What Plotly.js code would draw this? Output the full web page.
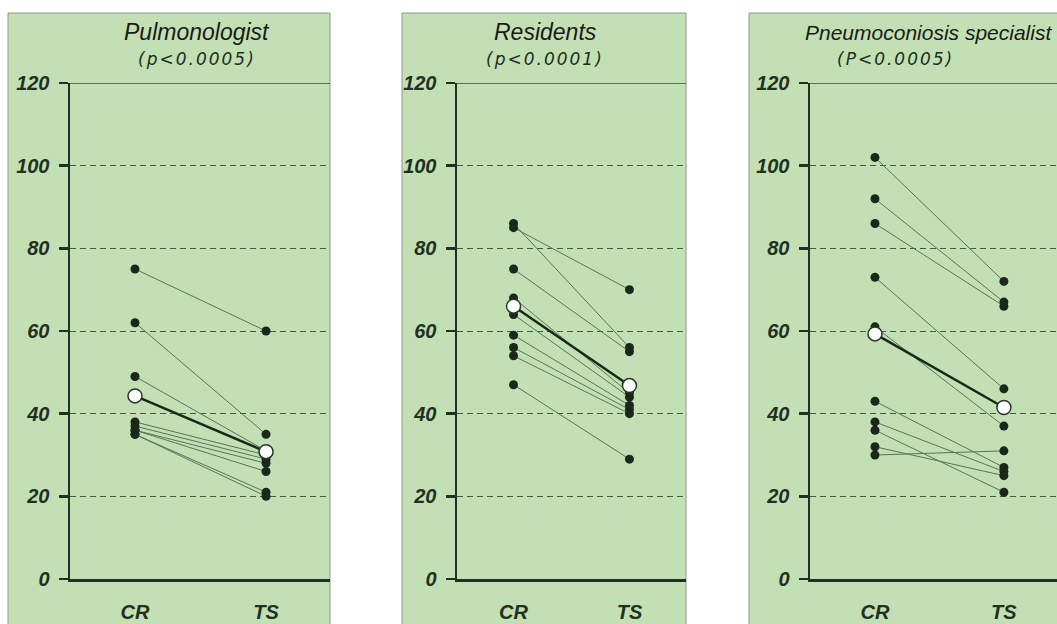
<!DOCTYPE html>
<html>
<head>
<meta charset="utf-8">
<script src="https://cdn.plot.ly/plotly-3.0.1.min.js"></script>
<style>
html,body{margin:0;padding:0;background:#fff;}
#chart{width:1057px;height:624px;}
.annotation[data-index="1"] text,.annotation[data-index="3"] text,.annotation[data-index="5"] text{letter-spacing:2px;}
</style>
</head>
<body>
<div id="chart"></div>
<script>
// ---- data ----
const categories = ['CR', 'TS'];
const panelTitles = ['Pulmonologist', 'Residents', 'Pneumoconiosis specialist'];
const pValues = ['(p<0.0005)', '(p<0.0001)', '(P<0.0005)'];
const yTicks = [0, 20, 40, 60, 80, 100, 120];

const pulmCR = [75, 62, 49, 38, 37, 36, 36, 35, 35];
const pulmTS = [60, 35, 31, 30, 29, 28, 26, 21, 20];
const pulmMean = [44.3, 30.8];

const resCR = [86, 85, 75, 68, 64, 59, 56, 54, 47];
const resTS = [56, 70, 55, 45, 44, 42, 41, 40, 29];
const resMean = [66, 46.8];

const pneuCR = [102, 92, 86, 73, 61, 43, 38, 36, 32, 30];
const pneuTS = [72, 67, 66, 46, 37, 27, 26, 21, 25, 31];
const pneuMean = [59.3, 41.5];

// ---- styling ----
const W = 1057, H = 624;
const green = '#c3e0b4';
const ink = '#223022';
const px = v => v / W;
const py = v => 1 - v / H;

const panels = [
  {cr: pulmCR, ts: pulmTS, mean: pulmMean, box: [8, 330], axisX: 70, right: 330, range: [-0.496, 1.488]},
  {cr: resCR, ts: resTS, mean: resMean, box: [402, 686], axisX: 457, right: 686, range: [-0.488, 1.488]},
  {cr: pneuCR, ts: pneuTS, mean: pneuMean, box: [749, 1062], axisX: 810, right: 1057, range: [-0.504, 1.412]}
];

const traces = [];
const layout = {
  width: W, height: H,
  margin: {l: 0, r: 0, t: 0, b: 0},
  paper_bgcolor: '#ffffff',
  plot_bgcolor: 'rgba(0,0,0,0)',
  showlegend: false,
  shapes: [],
  annotations: []
};

const yDomain = [(H - 579) / H, (H - 83) / H];
const tickFont = {family: 'Liberation Sans, Arial, sans-serif', size: 20, color: ink, weight: 'bold', style: 'italic'};

panels.forEach((p, i) => {
  const n = i === 0 ? '' : String(i + 1);
  const xa = 'x' + n, ya = 'y' + n;
  for (let k = 0; k < p.cr.length; k++) {
    traces.push({
      type: 'scatter', mode: 'lines+markers', x: categories, y: [p.cr[k], p.ts[k]],
      xaxis: xa, yaxis: ya,
      line: {color: '#56745a', width: 1},
      marker: {color: '#1b271b', size: 9}
    });
  }
  traces.push({
    type: 'scatter', mode: 'lines+markers', x: categories, y: p.mean,
    xaxis: xa, yaxis: ya,
    line: {color: '#1b271b', width: 2.5},
    marker: {color: '#ffffff', size: 14, line: {color: '#2a382a', width: 1.5}}
  });

  layout['xaxis' + n] = {
    domain: [px(p.axisX), Math.min(1, px(p.right))],
    anchor: ya, type: 'category', categoryorder: 'array', categoryarray: categories,
    range: p.range, showgrid: false, zeroline: false,
    showline: true, linecolor: ink, linewidth: 3,
    ticks: '', ticklabelstandoff: 13,
    tickfont: tickFont
  };
  layout['yaxis' + n] = {
    domain: yDomain, anchor: xa, range: [0, 120],
    tickvals: yTicks, ticktext: yTicks.map(String),
    showgrid: true, gridcolor: '#3f5e40', gridwidth: 1, griddash: '6px,4px',
    zeroline: false, showline: true, linecolor: ink, linewidth: 2.5,
    ticks: 'outside', ticklen: 9, tickwidth: 2.5, tickcolor: ink, ticklabelstandoff: 5,
    tickfont: tickFont
  };

  // green panel background
  layout.shapes.push({
    type: 'rect', xref: 'paper', yref: 'paper', layer: 'below',
    x0: px(p.box[0]), x1: px(p.box[1]), y0: -0.05, y1: py(13),
    fillcolor: green, line: {color: '#8c9a8c', width: 1}
  });
  // top line at 120
  layout.shapes.push({
    type: 'line', xref: xa + ' domain', yref: ya, layer: 'above',
    x0: 0, x1: 1, y0: 120, y1: 120,
    line: {color: '#33473a', width: 1.5}
  });
});

// titles
const titlePos = [
  {x: 197, anchor: 'center', size: 23},
  {x: 545, anchor: 'center', size: 23},
  {x: 803, anchor: 'left', size: 21}
];
const pPos = [197, 545, 895];
panelTitles.forEach((t, i) => {
  layout.annotations.push({
    text: t, xref: 'paper', yref: 'paper', x: px(titlePos[i].x), y: py(32),
    xanchor: titlePos[i].anchor, yanchor: 'middle', showarrow: false,
    font: {family: 'Liberation Sans, Arial, sans-serif', size: titlePos[i].size, color: '#1a1a1a', style: 'italic'}
  });
  layout.annotations.push({
    text: pValues[i], xref: 'paper', yref: 'paper', x: px(pPos[i]), y: py(59),
    xanchor: 'center', yanchor: 'middle', showarrow: false,
    font: {family: 'DejaVu Sans, sans-serif', size: 17, color: '#1e2e1e', style: 'italic'}
  });
});

Plotly.newPlot('chart', traces, layout, {staticPlot: true});
</script>
</body>
</html>
